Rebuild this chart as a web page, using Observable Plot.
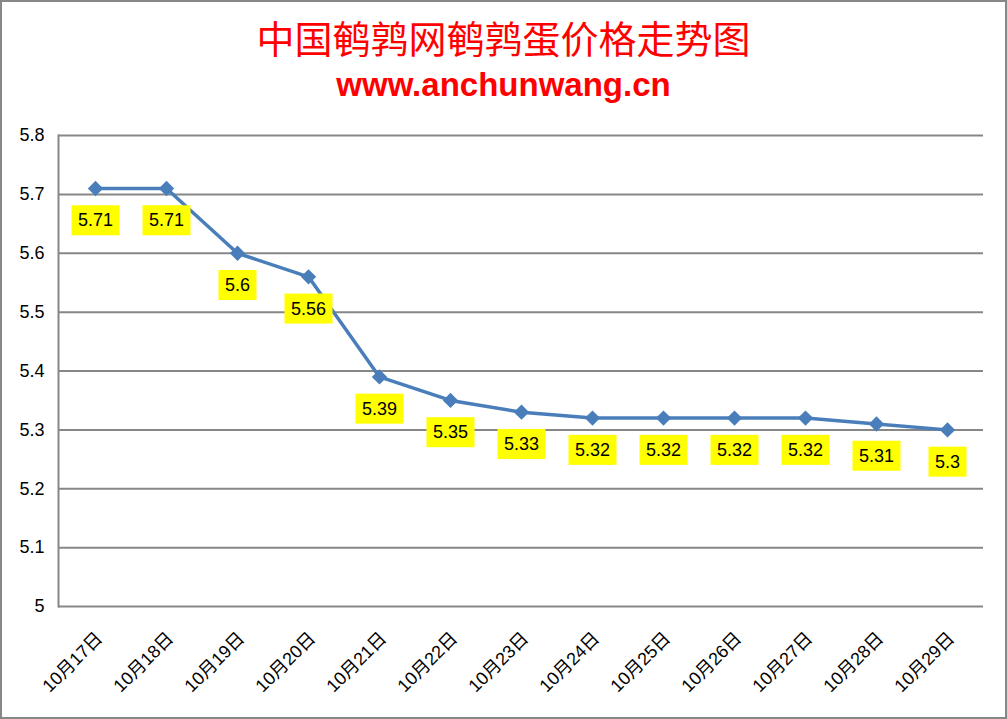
<!DOCTYPE html>
<html><head><meta charset="utf-8">
<script src="https://cdn.jsdelivr.net/npm/d3@7"></script>
<script src="https://cdn.jsdelivr.net/npm/@observablehq/plot@0.6"></script>
<style>
html,body{margin:0;padding:0;background:#fff;}
#page{position:relative;width:1007px;height:719px;overflow:hidden;background:#fff;}
#border{position:absolute;left:0;top:0;width:1007px;height:719px;box-sizing:border-box;border:2px solid #878787;pointer-events:none;z-index:5}
#title{position:absolute;left:0;top:9px;width:1007px;text-align:center;font-family:"Noto Sans CJK SC";font-size:38px;line-height:55px;color:#f00;white-space:nowrap;}
#subtitle{position:absolute;left:0;top:67px;width:1007px;text-align:center;font-family:"Liberation Sans";font-weight:bold;font-size:33px;line-height:36px;color:#f00;white-space:nowrap;}
#chart{position:absolute;left:0;top:115px;}
</style></head><body>
<div id="page">
<div id="title"></div><div id="subtitle"></div><div id="chart"></div><div id="border"></div>
</div>
<script>
const titleText = "中国鹌鹑网鹌鹑蛋价格走势图";
const subtitleText = "www.anchunwang.cn";
const dates = ["10月17日","10月18日","10月19日","10月20日","10月21日","10月22日","10月23日","10月24日","10月25日","10月26日","10月27日","10月28日","10月29日"];
const prices = [5.71,5.71,5.6,5.56,5.39,5.35,5.33,5.32,5.32,5.32,5.32,5.31,5.3];
const yTicks = [5,5.1,5.2,5.3,5.4,5.5,5.6,5.7,5.8];
const yTickLabels = ["5","5.1","5.2","5.3","5.4","5.5","5.6","5.7","5.8"];

document.getElementById("title").textContent = titleText;
document.getElementById("subtitle").textContent = subtitleText;

const data = dates.map((d, i) => ({date: d, price: prices[i], label: String(prices[i])}));

const plot = Plot.plot({
  width: 1007, height: 600,
  marginLeft: 58, marginRight: 24, marginTop: 20, marginBottom: 109,
  style: {fontFamily: "'Liberation Sans','Noto Sans CJK SC',sans-serif", fontSize: "18px", color: "#000", background: "transparent", overflow: "visible"},
  x: {type: "point", domain: dates, padding: 0.5, axis: null},
  y: {domain: [5, 5.8], axis: null},
  marks: [
    Plot.gridY(yTicks, {stroke: "#878787", strokeOpacity: 1, strokeWidth: 2}),
    Plot.frame({anchor: "left", stroke: "#878787", strokeWidth: 2}),
    Plot.axisY(yTicks, {tickFormat: d => yTickLabels[yTicks.indexOf(d)], tickSize: 0, tickPadding: 14, fontSize: 18, fill: "#000", label: null}),
    Plot.axisX({tickRotate: -45, tickSize: 0, tickPadding: 29, dx: 4, fontSize: 18, fill: "#000", label: null}),
    Plot.line(data, {x: "date", y: "price", stroke: "#4A7EBB", strokeWidth: 3.5}),
    Plot.dot(data, {x: "date", y: "price", symbol: "diamond2", r: 6.9, fill: "#4A7EBB", stroke: "none"}),
    Plot.text(data, {x: "date", y: "price", text: "label", dy: 32, lineAnchor: "middle", fontSize: 18, fill: "#000"})
  ]
});
document.getElementById("chart").append(plot);

const svgRoot = plot.tagName.toLowerCase() === "svg" ? plot : plot.querySelector("svg");
svgRoot.querySelectorAll('g[aria-label="text"] text').forEach(t => {
  const b = t.getBBox();
  const r = document.createElementNS("http://www.w3.org/2000/svg", "rect");
  r.setAttribute("x", b.x - 6.5);
  r.setAttribute("y", b.y - 5);
  r.setAttribute("width", b.width + 13);
  r.setAttribute("height", b.height + 10);
  r.setAttribute("fill", "#FFFF00");
  const tr = t.getAttribute("transform");
  if (tr) r.setAttribute("transform", tr);
  t.parentNode.insertBefore(r, t);
});
</script>
</body></html>
